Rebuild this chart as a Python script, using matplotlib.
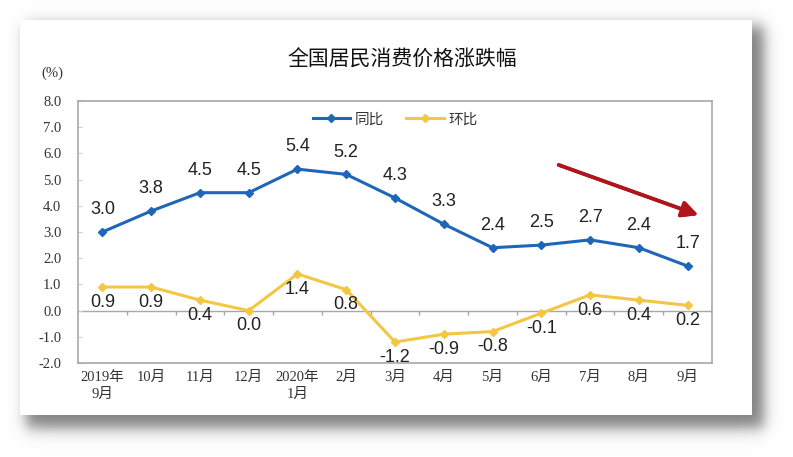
import numpy as np
import matplotlib.pyplot as plt
from matplotlib.patches import Rectangle

plt.rcParams['font.family'] = ['Liberation Serif', 'Noto Sans CJK SC']

# 数据
months = ['2019年\n9月', '10月', '11月', '12月', '2020年\n1月', '2月', '3月',
          '4月', '5月', '6月', '7月', '8月', '9月']
yoy = [3.0, 3.8, 4.5, 4.5, 5.4, 5.2, 4.3, 3.3, 2.4, 2.5, 2.7, 2.4, 1.7]
mom = [0.9, 0.9, 0.4, 0.0, 1.4, 0.8, -1.2, -0.9, -0.8, -0.1, 0.6, 0.4, 0.2]
yticks = [-2.0, -1.0, 0.0, 1.0, 2.0, 3.0, 4.0, 5.0, 6.0, 7.0, 8.0]

BLUE = '#1f66b8'
YELLOW = '#f2c744'

W, H = 793, 457
fig = plt.figure(figsize=(W / 100, H / 100), dpi=100)
fig.patch.set_facecolor('white')

# fond : carte blanche avec ombre
bg = fig.add_axes([0, 0, 1, 1], zorder=0)
xx = np.arange(W)[None, :] + 0.5
yy = np.arange(H)[:, None] + 0.5

def soft(v, a, b, s):
    return 0.5 * (np.tanh((v - a) / s) - np.tanh((v - b) / s))

shadow = soft(xx, 26, 764, 8) * soft(yy, 26, 428, 9)
img = np.ones((H, W, 3)) - 0.5 * shadow[..., None]
bg.imshow(img, extent=[0, W, H, 0], aspect='auto', interpolation='bilinear')
bg.add_patch(Rectangle((20, 20), 732, 395, facecolor='white', edgecolor='none'))
bg.set_xlim(0, W)
bg.set_ylim(H, 0)
bg.axis('off')

# graphique
ax = fig.add_axes([78 / W, 1 - 363 / H, 634 / W, 262 / H], zorder=1)
ax.set_facecolor('white')
x = np.arange(len(months))

ax.plot(x, yoy, color=BLUE, lw=2.2, marker='D', ms=4.5, label='同比', zorder=3)
ax.plot(x, mom, color=YELLOW, lw=2.2, marker='D', ms=4.5, label='环比', zorder=3)

for i in range(len(months)):
    ax.annotate('%.1f' % yoy[i], (x[i], yoy[i]), xytext=(0, 16), textcoords='offset points',
                ha='center', va='center', fontsize=13, family='Liberation Sans', color='#222222')
    ax.annotate('%.1f' % mom[i], (x[i], mom[i]), xytext=(0, -11), textcoords='offset points',
                ha='center', va='center', fontsize=13, family='Liberation Sans', color='#222222')

# axe des catégories sur le zéro
ax.axhline(0, color='#a8a8a8', lw=1, zorder=1)
ax.vlines(x[:-1] + 0.5, -0.15, 0, color='#a8a8a8', lw=1, zorder=1)

ax.set_xlim(-0.5, len(months) - 0.5)
ax.set_ylim(-2, 8)
ax.set_xticks(x)
ax.set_xticklabels(months, fontsize=10.5, linespacing=1.3, color='#333333')
ax.set_yticks(yticks)
ax.set_yticklabels(['%.1f' % v for v in yticks], fontsize=10.5, color='#333333')
ax.tick_params(axis='x', length=0, pad=6)
ax.tick_params(axis='y', direction='in', length=3, color='#d0d0d0', pad=12)
for sp in ax.spines.values():
    sp.set_color('#a8a8a8')
    sp.set_linewidth(1.2)

leg = ax.legend(loc='center', bbox_to_anchor=(0.5, 0.93), ncol=2, frameon=False,
                handlelength=2.6, columnspacing=1.5, handletextpad=0.3,
                prop={'family': 'Noto Sans CJK SC', 'size': 10.5})
for t in leg.get_texts():
    t.set_color('#333333')

# titre et unité
fig.text(402 / W, 1 - 60 / H, '全国居民消费价格涨跌幅', ha='center', va='center',
         fontsize=15, family='Noto Sans CJK SC', weight='medium', color='#111111')
fig.text(52 / W, 1 - 73 / H, '(%)', ha='center', va='center', fontsize=10.5, color='#333333')

# flèche rouge
fig.add_artist(plt.annotate('', xy=(701 / W, 1 - 216 / H), xycoords='figure fraction',
                            xytext=(556 / W, 1 - 164 / H), textcoords='figure fraction',
                            arrowprops=dict(arrowstyle='-|>', color='#b0141c', lw=2.6,
                                            mutation_scale=24)))

plt.savefig('out.png', dpi=100)
